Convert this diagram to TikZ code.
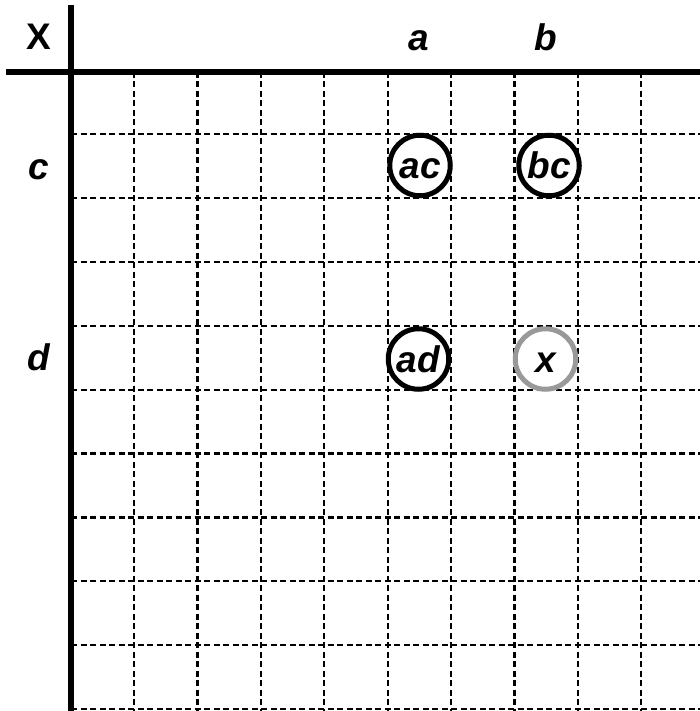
\documentclass[tikz,border=0pt]{standalone}
\usepackage{fontspec}
\setmainfont{Liberation Sans}
\begin{document}
\begin{tikzpicture}[x=1pt,y=-1pt,
  thickline/.style={line width=5.5pt},
  gridline/.style={line width=2.2pt, dash pattern=on 6pt off 3.5pt},
  lbl/.style={font=\fontsize{37}{42}\selectfont\bfseries\itshape, anchor=base, inner sep=0pt},
  hdr/.style={font=\fontsize{37}{42}\selectfont\bfseries, anchor=base, inner sep=0pt},
  cell/.style={circle, draw=black, line width=5pt, minimum size=60.5pt, inner sep=0pt,
    text height=27pt, text depth=0pt, font=\fontsize{37}{42}\selectfont\bfseries\itshape},
  cellgray/.style={cell, draw=black!40}]
\useasboundingbox (0,0) rectangle (700,711);
% dashed grid
\foreach \i in {0,...,8} {
  \draw[gridline] ({134+63.4*\i},72) -- ({134+63.4*\i},711);
}
\foreach \j in {0,...,9} {
  \draw[gridline] (71,{134+63.9*\j}) -- (700,{134+63.9*\j});
}
% axes
\draw[thickline] (71,5) -- (71,711);
\draw[thickline] (6,72) -- (700,72);
% headers
\node[hdr] (X) at (38.5,50) {X};
\node[lbl] (la) at (419,51) {a};
\node[lbl] (lb) at (546,51) {b};
\node[lbl] (lc) at (39,180) {c};
\node[lbl] (ld) at (39,370) {d};
% cells
\node[cell] (ac) at (420,165.5) {ac};
\node[cell] (bc) at (549,165.5) {bc};
\node[cell] (ad) at (418.5,359) {ad};
\node[cellgray] (x) at (545.5,359) {x};
\end{tikzpicture}
\end{document}
